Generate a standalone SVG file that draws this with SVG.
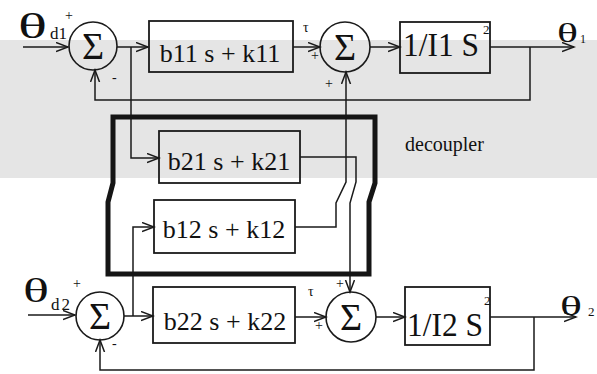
<svg xmlns="http://www.w3.org/2000/svg" width="597" height="374" viewBox="0 0 597 374">
<style>
.w{fill:none;stroke:#1a1a1a;stroke-width:1.5}
.b{fill:none;stroke:#1a1a1a;stroke-width:1.8}
.s{fill:none;stroke:#1a1a1a;stroke-width:1.6}
.t{font-family:"Liberation Serif","DejaVu Serif",serif;fill:#111}
.sg{font-family:"Liberation Serif","DejaVu Serif",serif;font-size:38px;fill:#111;text-anchor:middle}
.bx{font-family:"Liberation Serif","DejaVu Serif",serif;font-size:26px;fill:#111;text-anchor:middle}
.pl{font-family:"Liberation Serif","DejaVu Serif",serif;font-size:14px;fill:#111}
</style>
<defs>
<marker id="ah" markerUnits="userSpaceOnUse" markerWidth="14" markerHeight="12" refX="12" refY="5" orient="auto">
<path d="M0,0.5 L12,5 L0,9.5" fill="none" stroke="#1a1a1a" stroke-width="1.5"/>
</marker>
</defs>
<rect x="0" y="0" width="597" height="374" fill="#ffffff"/>
<rect x="0" y="40" width="597" height="138" fill="#e5e5e5"/>

<g id="connectors">
<path class="w" d="M23,47 L68,47" marker-end="url(#ah)"/>
<path class="w" d="M117,47 L148,47" marker-end="url(#ah)"/>
<path class="w" d="M293,47 L320,47" marker-end="url(#ah)"/>
<path class="w" d="M370,47 L400,47" marker-end="url(#ah)"/>
<path class="w" d="M490,47 L574,47" marker-end="url(#ah)"/>
<path class="w" d="M530,47 L530,100 L95,100 L95,70" marker-end="url(#ah)"/>
<path class="w" d="M131,47 L131,158 L159,158" marker-end="url(#ah)"/>
<path class="w" d="M300,157 L356,157 L356,182 L350,203 L350,292" marker-end="url(#ah)"/>
<path class="w" d="M295,227 L336,227 L336,203 L346,182 L346,72" marker-end="url(#ah)"/>
<path class="w" d="M28,315 L75,315" marker-end="url(#ah)"/>
<path class="w" d="M124,316 L153,316" marker-end="url(#ah)"/>
<path class="w" d="M133,316 L133,227 L154,227" marker-end="url(#ah)"/>
<path class="w" d="M295,317 L326,317" marker-end="url(#ah)"/>
<path class="w" d="M376,317 L405,317" marker-end="url(#ah)"/>
<path class="w" d="M490,317 L576,317" marker-end="url(#ah)"/>
<path class="w" d="M534,317 L534,370 L100,370 L100,340" marker-end="url(#ah)"/>
</g>

<g id="decoupler">
<path d="M113,117 L375,117 L375,183 L369,202 L369,274 L108,274 L108,202 L113,183 Z" fill="none" stroke="#151515" stroke-width="5" stroke-linejoin="miter"/>
<text class="t" x="405" y="151" font-size="20">decoupler</text>
</g>

<g id="theta_d1">
<text class="t" x="18" y="38" font-size="36" textLength="29" lengthAdjust="spacingAndGlyphs">θ</text>
<text class="t" x="50" y="39" font-size="17">d1</text>
</g>
<g id="sum1">
<circle class="s" cx="93" cy="46" r="24"/>
<text class="sg" x="93" y="59">Σ</text>
<text class="pl" x="65" y="20">+</text>
<text class="pl" x="112" y="82">-</text>
</g>
<g id="b11">
<rect class="b" x="149" y="21" width="144" height="51"/>
<text class="bx" x="220" y="62">b11 s + k11</text>
</g>
<g id="sum2">
<circle class="s" cx="345" cy="47" r="25"/>
<text class="sg" x="345" y="60">Σ</text>
<text class="pl" x="303" y="32">τ</text>
<text class="pl" x="311" y="60">+</text>
<text class="pl" x="325" y="88">+</text>
</g>
<g id="plant1">
<rect class="b" x="400" y="22" width="90" height="51"/>
<text class="t" x="403" y="56" font-size="33" textLength="76" lengthAdjust="spacingAndGlyphs">1/I1 S</text>
<text class="t" x="483" y="34" font-size="13">2</text>
</g>
<g id="theta1">
<text class="t" x="557" y="42" font-size="28" textLength="21" lengthAdjust="spacingAndGlyphs">θ</text>
<text class="t" x="580" y="43" font-size="12">1</text>
</g>

<g id="b21">
<rect class="b" x="159" y="131" width="141" height="52"/>
<text class="bx" x="229" y="170">b21 s + k21</text>
</g>
<g id="b12">
<rect class="b" x="154" y="200" width="141" height="53"/>
<text class="bx" x="224" y="238">b12 s + k12</text>
</g>

<g id="theta_d2">
<text class="t" x="23" y="302" font-size="34" textLength="26" lengthAdjust="spacingAndGlyphs">θ</text>
<text class="t" x="51" y="310" font-size="17" letter-spacing="2">d2</text>
</g>
<g id="sum3">
<circle class="s" cx="100" cy="316" r="24"/>
<text class="sg" x="100" y="329">Σ</text>
<text class="pl" x="73" y="288">+</text>
<text class="pl" x="112" y="348">-</text>
</g>
<g id="b22">
<rect class="b" x="153" y="287" width="142" height="56"/>
<text class="bx" x="225" y="330">b22 s + k22</text>
</g>
<g id="sum4">
<circle class="s" cx="351" cy="317" r="25"/>
<text class="sg" x="351" y="330">Σ</text>
<text class="pl" x="308" y="296">τ</text>
<text class="pl" x="315" y="330">+</text>
<text class="pl" x="336" y="288">+</text>
</g>
<g id="plant2">
<rect class="b" x="405" y="287" width="85" height="58"/>
<text class="t" x="407" y="336" font-size="33" textLength="76" lengthAdjust="spacingAndGlyphs">1/I2 S</text>
<text class="t" x="484" y="305" font-size="13">2</text>
</g>
<g id="theta2">
<text class="t" x="560" y="315" font-size="28" textLength="22" lengthAdjust="spacingAndGlyphs">θ</text>
<text class="t" x="588" y="316" font-size="13">2</text>
</g>
</svg>
